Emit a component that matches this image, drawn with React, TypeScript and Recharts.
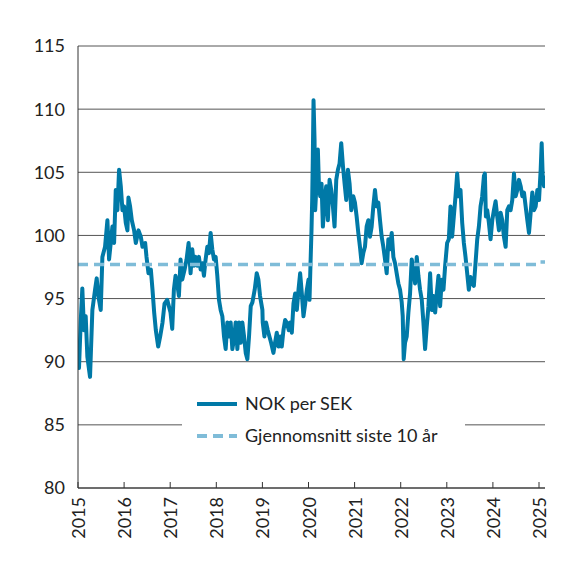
import React from 'react';
import { LineChart, Line, XAxis, YAxis, CartesianGrid, Legend } from 'recharts';

// Time in fractional years, values NOK per 100 SEK
const times: number[] = [
  2015.0, 2015.022, 2015.058, 2015.094, 2015.13, 2015.167, 2015.203, 2015.261, 2015.312, 2015.37,
  2015.406, 2015.442, 2015.493, 2015.529, 2015.587, 2015.638, 2015.674, 2015.71, 2015.746, 2015.783,
  2015.819, 2015.855, 2015.891, 2015.928, 2015.964, 2016.0, 2016.036, 2016.072, 2016.094, 2016.13,
  2016.167, 2016.217, 2016.254, 2016.312, 2016.362, 2016.399, 2016.457, 2016.486, 2016.529, 2016.58,
  2016.616, 2016.652, 2016.688, 2016.739, 2016.783, 2016.833, 2016.877,
  2016.935, 2017.007, 2017.044, 2017.08, 2017.116, 2017.152, 2017.189, 2017.225, 2017.261, 2017.312,
  2017.355, 2017.399, 2017.442, 2017.478, 2017.515, 2017.551, 2017.587, 2017.623, 2017.66, 2017.696,
  2017.732, 2017.768, 2017.805, 2017.841, 2017.877, 2017.913, 2017.949, 2017.986, 2018.022, 2018.058,
  2018.094, 2018.131, 2018.167, 2018.203, 2018.239, 2018.276, 2018.312, 2018.348, 2018.384, 2018.42,
  2018.457, 2018.493, 2018.529, 2018.565, 2018.602, 2018.638, 2018.674, 2018.71, 2018.747, 2018.783,
  2018.833, 2018.877, 2018.913, 2018.949, 2019.0,
  2019.007, 2019.044, 2019.08, 2019.116, 2019.152, 2019.189, 2019.239, 2019.283, 2019.312, 2019.348,
  2019.384, 2019.42, 2019.457, 2019.493, 2019.529, 2019.573, 2019.602, 2019.638, 2019.674, 2019.71,
  2019.747, 2019.783, 2019.819, 2019.855, 2019.891, 2019.928, 2019.964, 2020.0, 2020.022, 2020.044,
  2020.065, 2020.08, 2020.094, 2020.109, 2020.131, 2020.145, 2020.167, 2020.203, 2020.225, 2020.254,
  2020.283, 2020.312, 2020.348, 2020.384, 2020.42, 2020.457, 2020.493, 2020.529, 2020.565, 2020.602,
  2020.638, 2020.674, 2020.71, 2020.747, 2020.783, 2020.819, 2020.855, 2020.891, 2020.928,
  2020.971, 2021.007, 2021.044, 2021.08, 2021.116, 2021.152, 2021.189, 2021.225, 2021.261, 2021.297,
  2021.334, 2021.37, 2021.406, 2021.442, 2021.478, 2021.515, 2021.551, 2021.587, 2021.623, 2021.66,
  2021.696, 2021.732, 2021.768, 2021.805, 2021.841, 2021.877, 2021.913, 2021.949, 2021.986, 2022.022,
  2022.044, 2022.065, 2022.094, 2022.131, 2022.167, 2022.203, 2022.239, 2022.276, 2022.312, 2022.348,
  2022.384, 2022.42, 2022.457, 2022.493, 2022.529, 2022.565, 2022.602, 2022.638, 2022.674, 2022.71,
  2022.747, 2022.783, 2022.819, 2022.855, 2022.891, 2022.928, 2022.964,
  2023.007, 2023.044, 2023.08, 2023.116, 2023.152, 2023.189, 2023.225, 2023.261, 2023.297, 2023.334,
  2023.37, 2023.406, 2023.442, 2023.478, 2023.515, 2023.551, 2023.587, 2023.623, 2023.66, 2023.696,
  2023.732, 2023.768, 2023.805, 2023.826, 2023.848, 2023.877, 2023.913, 2023.949, 2023.986, 2024.022,
  2024.058, 2024.094, 2024.131, 2024.167, 2024.203, 2024.239, 2024.276, 2024.312, 2024.348, 2024.384,
  2024.42, 2024.457, 2024.493, 2024.529, 2024.565, 2024.602, 2024.638, 2024.674, 2024.71, 2024.747,
  2024.783, 2024.819, 2024.855, 2024.891, 2024.928, 2024.964, 2025.0, 2025.036, 2025.058, 2025.08,
  2025.109, 2025.13,
];

const nokPerSek: number[] = [
  91.0, 89.5, 93.1, 95.8, 92.5, 93.6, 90.4, 88.8, 94.1, 95.7,
  96.6, 95.2, 94.1, 98.3, 99.1, 101.2, 98.1, 99.4, 100.7, 99.4,
  103.6, 102.0, 105.2, 103.9, 102.0, 102.3, 101.0, 100.4, 103.0, 102.3,
  101.2, 100.4, 99.4, 100.4, 99.9, 99.1, 99.4, 98.3, 97.0, 97.3,
  95.7, 93.9, 92.5, 91.2, 92.0, 93.1, 94.6,
  94.9, 93.9, 92.6, 95.7, 96.8, 96.2, 95.2, 98.1, 96.5, 97.3,
  98.1, 99.4, 97.0, 98.9, 97.6, 98.3, 97.6, 98.3, 97.3, 97.8,
  96.8, 98.1, 99.1, 98.6, 100.2, 98.9, 98.1, 98.3, 96.8, 94.9,
  94.1, 93.6, 92.0, 91.0, 93.1, 92.0, 93.1, 91.0, 91.8, 93.1,
  91.0, 93.1, 91.5, 93.1, 92.0, 90.7, 90.2, 92.0, 94.4, 94.7,
  95.7, 97.0, 96.5, 95.2, 94.1,
  93.1, 92.0, 93.1, 92.5, 92.0, 91.5, 90.7, 91.7, 92.3, 91.2,
  92.0, 91.2, 92.5, 93.3, 93.1, 92.5, 93.1, 92.3, 94.6, 95.4,
  94.1, 95.7, 97.0, 95.4, 93.6, 94.6, 95.7, 96.5, 94.9, 97.8,
  100.4, 102.8, 106.3, 110.7, 107.6, 102.0, 103.6, 106.8, 104.1, 103.1,
  104.1, 100.7, 102.8, 103.9, 101.2, 104.4, 103.6, 102.3, 100.7, 104.4,
  105.2, 105.7, 107.3, 105.5, 104.1, 102.8, 105.2, 104.1, 102.0,
  103.1, 102.6, 101.5, 100.2, 99.1, 97.8, 98.6, 99.1, 100.7, 101.2,
  99.9, 100.7, 102.3, 103.6, 102.3, 102.6, 101.2, 99.9, 99.1, 98.1,
  97.0, 99.7, 98.9, 100.2, 98.3, 97.8, 97.0, 96.2, 95.7, 94.7,
  93.6, 90.2, 91.5, 92.0, 93.9, 95.4, 98.1, 97.3, 96.2, 98.3,
  96.8, 95.7, 94.9, 93.1, 91.0, 92.8, 94.4, 97.0, 94.1, 95.2,
  93.9, 95.4, 96.8, 94.4, 96.5, 95.7, 97.6,
  99.4, 99.7, 102.3, 99.9, 101.5, 103.1, 104.9, 103.1, 103.6, 101.0,
  99.4, 98.3, 97.0, 95.7, 96.7, 96.2, 96.0, 97.8, 99.7, 100.7,
  102.3, 103.1, 104.7, 104.9, 101.5, 102.0, 101.0, 99.7, 101.2, 102.0,
  102.7, 101.5, 100.4, 101.8, 101.2, 99.9, 99.1, 102.0, 102.3, 102.0,
  102.8, 104.9, 103.1, 103.6, 104.4, 103.9, 103.1, 103.4, 102.3, 101.2,
  100.2, 101.8, 103.4, 102.0, 102.3, 103.6, 102.8, 105.2, 107.3, 104.7,
  103.9, 104.7,
];

// 10-year rolling average
const avgTimes: number[] = [2015.0, 2024.97, 2025.0, 2025.13];
const avgValues: number[] = [97.7, 97.7, 97.9, 97.9];

const yearTicks: number[] = [2015, 2016, 2017, 2018, 2019, 2020, 2021, 2022, 2023, 2024, 2025];
const valueTicks: number[] = [80, 85, 90, 95, 100, 105, 110, 115];

const seriesData = times.map((t, i) => ({ t, nok: nokPerSek[i] }));
const avgData = avgTimes.map((t, i) => ({ t, avg: avgValues[i] }));

const FONT = 'Lato, "DejaVu Sans", sans-serif';
const MAIN = '#0079a7';
const AVG = '#7fbcd8';

const YearTick = (props: any) => {
  const { x, y, payload } = props;
  return (
    <g>
      <line x1={x} x2={x} y1={y} y2={y - 6} stroke="#333" strokeWidth={1} />
      <text
        x={x}
        y={y + 9}
        transform={`rotate(-90 ${x} ${y + 9})`}
        textAnchor="end"
        dominantBaseline="central"
        fontFamily={FONT}
        fontSize={18}
        fill="#222"
      >
        {payload.value}
      </text>
    </g>
  );
};

const LegendBox = () => (
  <div style={{ position: 'relative', width: 283, height: 72, background: '#fff', fontFamily: FONT, fontSize: 18, color: '#222' }}>
    <svg width={40} height={10} style={{ position: 'absolute', left: 15, top: 18 }}>
      <line x1={0} x2={40} y1={5} y2={5} stroke={MAIN} strokeWidth={4} />
    </svg>
    <span style={{ position: 'absolute', left: 63, top: 11, lineHeight: '22px' }}>NOK per SEK</span>
    <svg width={40} height={10} style={{ position: 'absolute', left: 15, top: 50 }}>
      <line x1={0} x2={40} y1={5} y2={5} stroke={AVG} strokeWidth={4} strokeDasharray="10 6" />
    </svg>
    <span style={{ position: 'absolute', left: 63, top: 43, lineHeight: '22px' }}>Gjennomsnitt siste 10 år</span>
  </div>
);

export default function App() {
  return (
    <div style={{ width: 568, height: 560 }}>
      <LineChart width={568} height={560} margin={{ top: 38, right: 31, left: 0, bottom: 0 }}>
        <CartesianGrid vertical={false} stroke="#555" strokeWidth={1} />
        <XAxis
          dataKey="t"
          type="number"
          domain={[2015, 2025.13]}
          ticks={yearTicks}
          allowDataOverflow
          height={80}
          tickSize={0}
          tickMargin={0}
          tickLine={false}
          axisLine={{ stroke: '#333', strokeWidth: 1 }}
          tick={<YearTick />}
          interval={0}
        />
        <YAxis
          type="number"
          domain={[80, 115]}
          ticks={valueTicks}
          width={70}
          tickSize={0}
          tickMargin={13}
          tickLine={false}
          axisLine={{ stroke: '#333', strokeWidth: 1 }}
          tick={{ fontFamily: FONT, fontSize: 18, fill: '#222' }}
          interval={0}
        />
        <Legend
          layout="vertical"
          align="center"
          verticalAlign="middle"
          content={<LegendBox />}
          wrapperStyle={{ left: 174, top: 373, width: 283, height: 72 }}
        />
        <Line
          data={seriesData}
          dataKey="nok"
          name="NOK per SEK"
          type="linear"
          stroke={MAIN}
          strokeWidth={4}
          strokeLinejoin="round"
          dot={false}
          isAnimationActive={false}
        />
        <Line
          data={avgData}
          dataKey="avg"
          name="Gjennomsnitt siste 10 år"
          type="linear"
          stroke={AVG}
          strokeWidth={3.5}
          strokeDasharray="10 6"
          dot={false}
          isAnimationActive={false}
        />
      </LineChart>
    </div>
  );
}
